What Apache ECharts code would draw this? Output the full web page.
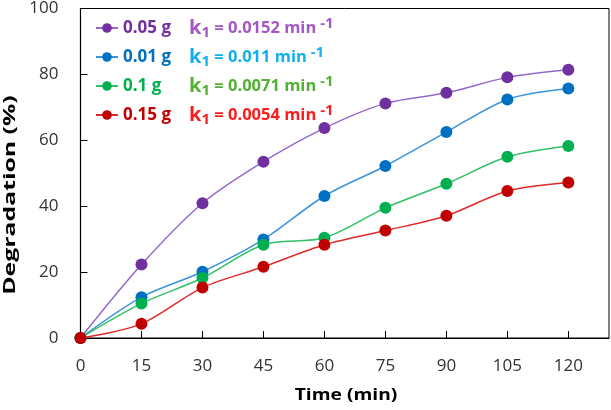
<!DOCTYPE html>
<html>
<head>
<meta charset="utf-8">
<script src="https://cdn.jsdelivr.net/npm/echarts@6/dist/echarts.min.js"></script>
<style>
html,body{margin:0;padding:0;background:#fff;}
#chart{width:611px;height:410px;}
</style>
</head>
<body>
<div id="chart"></div>
<script>
const times = [0, 15, 30, 45, 60, 75, 90, 105, 120];
const xTicks = [0, 15, 30, 45, 60, 75, 90, 105, 120];
const yTicks = [0, 20, 40, 60, 80, 100];
const names = ['0.05 g', '0.01 g', '0.1 g', '0.15 g'];
const kValues = ['0.0152', '0.011', '0.0071', '0.0054'];
const deg005 = [0, 22.3, 40.9, 53.5, 63.7, 71.2, 74.4, 79.1, 81.4];
const deg001 = [0, 12.4, 20.1, 29.9, 43.1, 52.2, 62.5, 72.4, 75.7];
const deg01  = [0, 10.5, 18.2, 28.3, 30.4, 39.5, 46.8, 55.0, 58.3];
const deg015 = [0, 4.3, 15.3, 21.6, 28.3, 32.6, 37.1, 44.6, 47.2];
const xTitle = 'Time (min)';
const yTitle = 'Degradation (%)';

const seriesValues = [deg005, deg001, deg01, deg015];
const markerColors = ['#7030a0', '#0070c0', '#00b050', '#c00000'];
const lineColors = ['#9468cc', '#3a93dd', '#33c066', '#e02a2a'];
const kColors = ['#a456c4', '#10b0f0', '#52b033', '#ff1c1c'];

const rich = {};
markerColors.forEach((c, i) => {
  rich['n' + i] = {color: c, fontWeight: 'bold', fontSize: 17, width: 66, fontFamily: 'Open Sans', lineHeight: 24};
  rich['k' + i] = {color: kColors[i], fontWeight: 'bold', fontSize: 20, fontFamily: 'Open Sans', lineHeight: 24};
  rich['s' + i] = {color: kColors[i], fontWeight: 'bold', fontSize: 15, fontFamily: 'Open Sans', verticalAlign: 'bottom', lineHeight: 24};
  rich['e' + i] = {color: kColors[i], fontWeight: 'bold', fontSize: 16.5, fontFamily: 'Open Sans', lineHeight: 24};
  rich['p' + i] = {color: kColors[i], fontWeight: 'bold', fontSize: 15, fontFamily: 'Open Sans', verticalAlign: 'top', lineHeight: 24};
});

const series = names.map((n, i) => ({
  name: n,
  type: 'line',
  smooth: 0.3,
  data: times.map((t, j) => [t, seriesValues[i][j]]),
  symbol: 'circle',
  symbolSize: 12,
  itemStyle: {color: markerColors[i]},
  lineStyle: {color: lineColors[i], width: 1.5},
  z: 2 + i
}));

const chart = echarts.init(document.getElementById('chart'), null, {renderer: 'canvas'});
chart.setOption({
  animation: false,
  backgroundColor: '#fff',
  grid: {left: 80.5, right: 2, top: 7, bottom: 72, show: true, borderColor: '#000', borderWidth: 1},
  legend: {
    orient: 'vertical',
    left: 95, top: 16,
    padding: 0,
    itemGap: 5,
    itemWidth: 22, itemHeight: 12,
    data: names,
    textStyle: {rich: rich},
    formatter: function (name) {
      const i = names.indexOf(name);
      return '{n' + i + '|' + name + '}{k' + i + '|k}{s' + i + '|1}{e' + i + '| = ' + kValues[i] + ' min}{p' + i + '| -1}';
    }
  },
  graphic: [
    {type: 'text', x: 346, y: 395, scaleX: 1.2, z: 10,
     style: {text: xTitle, font: 'bold 16px "Open Sans"', fill: '#000', align: 'center', verticalAlign: 'middle'}},
    {type: 'text', x: 10, y: 195, rotation: Math.PI / 2, scaleX: 1.55, z: 10,
     style: {text: yTitle, font: 'bold 16px "Open Sans"', fill: '#000', align: 'center', verticalAlign: 'middle'}}
  ],
  xAxis: {
    type: 'value', min: 0, max: 130, interval: 15,
    axisLine: {lineStyle: {color: '#000', width: 1.2}},
    axisTick: {inside: true, length: 7, lineStyle: {color: '#000'}},
    axisLabel: {
      margin: 20, fontFamily: 'Open Sans', fontSize: 17, color: '#333',
      showMaxLabel: false,
      formatter: v => xTicks.indexOf(v) >= 0 ? String(v) : ''
    },
    splitLine: {show: false}
  },
  yAxis: {
    type: 'value', min: 0, max: 100, interval: 20,
    axisLine: {lineStyle: {color: '#000', width: 1.2}},
    axisTick: {inside: true, length: 7, lineStyle: {color: '#000'}},
    axisLabel: {
      margin: 22, fontFamily: 'Open Sans', fontSize: 17, color: '#333',
      formatter: v => yTicks.indexOf(v) >= 0 ? String(v) : ''
    },
    splitLine: {show: false}
  },
  series: series
});
</script>
</body>
</html>
